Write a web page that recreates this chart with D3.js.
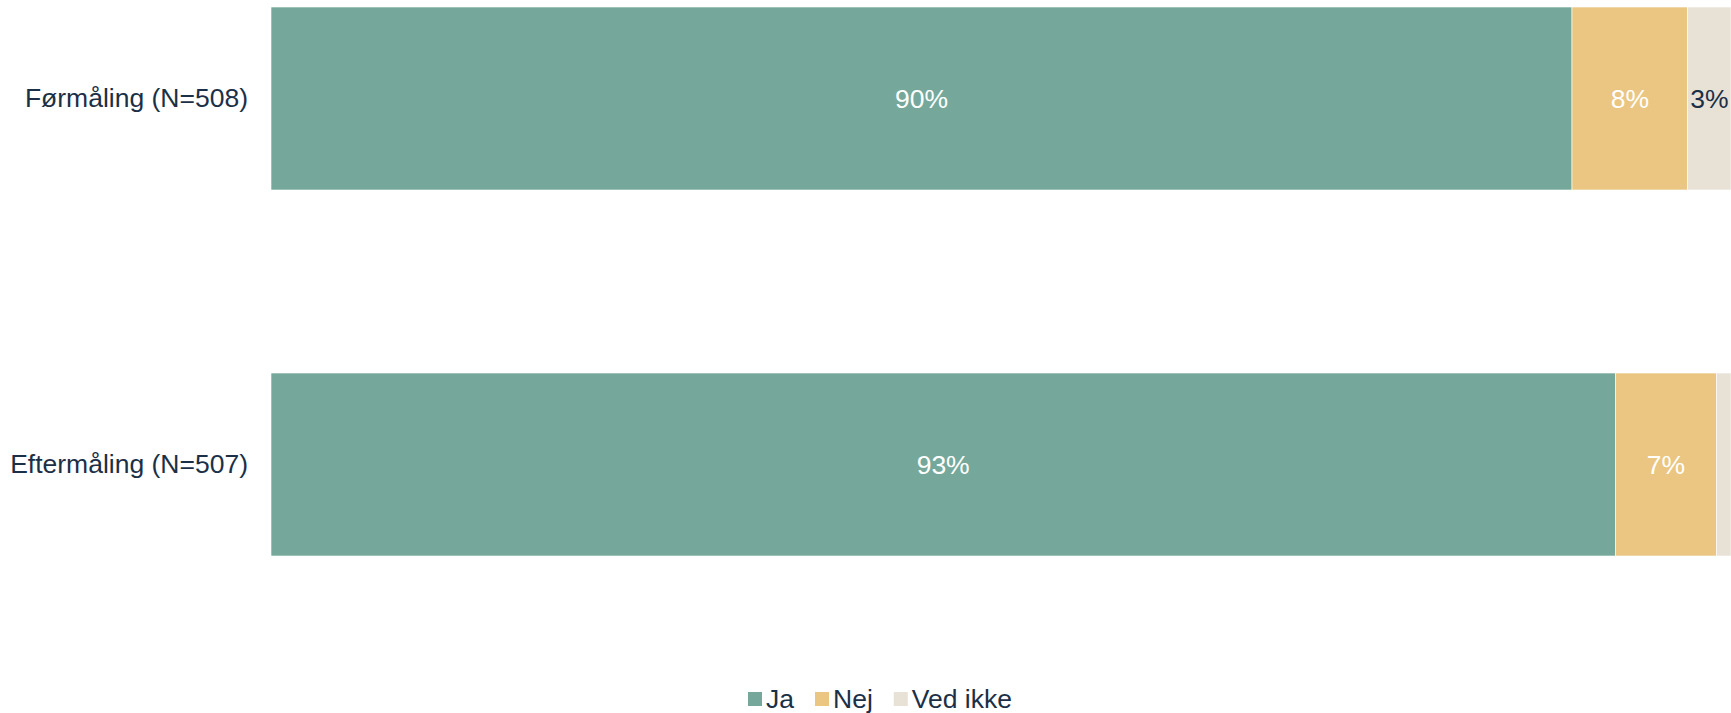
<!DOCTYPE html>
<html>
<head>
<meta charset="utf-8">
<script src="https://cdn.jsdelivr.net/npm/d3@7"></script>
<style>
  html, body { margin: 0; padding: 0; background: #ffffff; }
  svg { display: block; }
  text { font-family: "Liberation Sans", Arial, sans-serif; }
</style>
</head>
<body>
<svg id="chart" width="1731" height="713"></svg>
<script>
const categories = ["Førmåling (N=508)", "Eftermåling (N=507)"];
const seriesNames = ["Ja", "Nej", "Ved ikke"];
const ja = [90, 93];
const nej = [8, 7];
const vedIkke = [3, 1];
const colors = ["#75a89b", "#eac682", "#e8e1d6"];
const labelColors = ["#ffffff", "#ffffff", "#1b3047"];

const rows = categories.map((c, i) => ({ cat: c, "Ja": ja[i], "Nej": nej[i], "Ved ikke": vedIkke[i] }));
const stack = d3.stack().keys(seriesNames)(rows);

const svg = d3.select("#chart");
const left = 271, right = 1731;
const FS = 26.5;

const x = d3.scaleLinear().domain([0, 101]).range([left, right]);
const y = d3.scaleBand().domain(categories).range([7, 556]).paddingInner(0.5).paddingOuter(0);
const color = d3.scaleOrdinal().domain(seriesNames).range(colors);

const layers = svg.append("g").selectAll("g").data(stack).join("g")
  .attr("fill", d => color(d.key));

layers.selectAll("rect").data(d => d).join("rect")
  .attr("x", d => x(d[0]))
  .attr("y", d => y(d.data.cat))
  .attr("width", d => x(d[1]) - x(d[0]))
  .attr("height", y.bandwidth())
  .attr("stroke", "#ffffff")
  .attr("stroke-width", 0.6);

// value labels
stack.forEach((layer, li) => {
  svg.append("g").selectAll("text").data(layer.filter(d => (d[1] - d[0]) >= 2)).join("text")
    .attr("x", d => (x(d[0]) + x(d[1])) / 2)
    .attr("y", d => y(d.data.cat) + y.bandwidth() / 2)
    .attr("text-anchor", "middle")
    .attr("dominant-baseline", "central")
    .attr("font-size", FS)
    .attr("fill", labelColors[li])
    .text(d => Math.round(d[1] - d[0]) + "%");
});

// category axis
const yAxis = d3.axisLeft(y).tickSize(0).tickPadding(23);
const ag = svg.append("g").attr("transform", `translate(${left},0)`).call(yAxis);
ag.select(".domain").remove();
ag.selectAll("text").attr("font-size", FS).attr("fill", "#1b3047")
  .attr("font-family", "Liberation Sans, Arial, sans-serif");

// legend
const lg = svg.append("g");
const legendY = 699;
const items = lg.selectAll("g").data(seriesNames).join("g");
let cx = 748;
items.each(function(name) {
  const g = d3.select(this);
  g.append("rect").attr("x", cx).attr("y", legendY - 7).attr("width", 14).attr("height", 14)
    .attr("fill", color(name));
  const t = g.append("text").attr("x", cx + 18).attr("y", legendY)
    .attr("dominant-baseline", "central").attr("font-size", FS).attr("fill", "#1b3047").text(name);
  const w = t.node().getComputedTextLength();
  cx = cx + 18 + w + 21;
});
</script>
</body>
</html>
